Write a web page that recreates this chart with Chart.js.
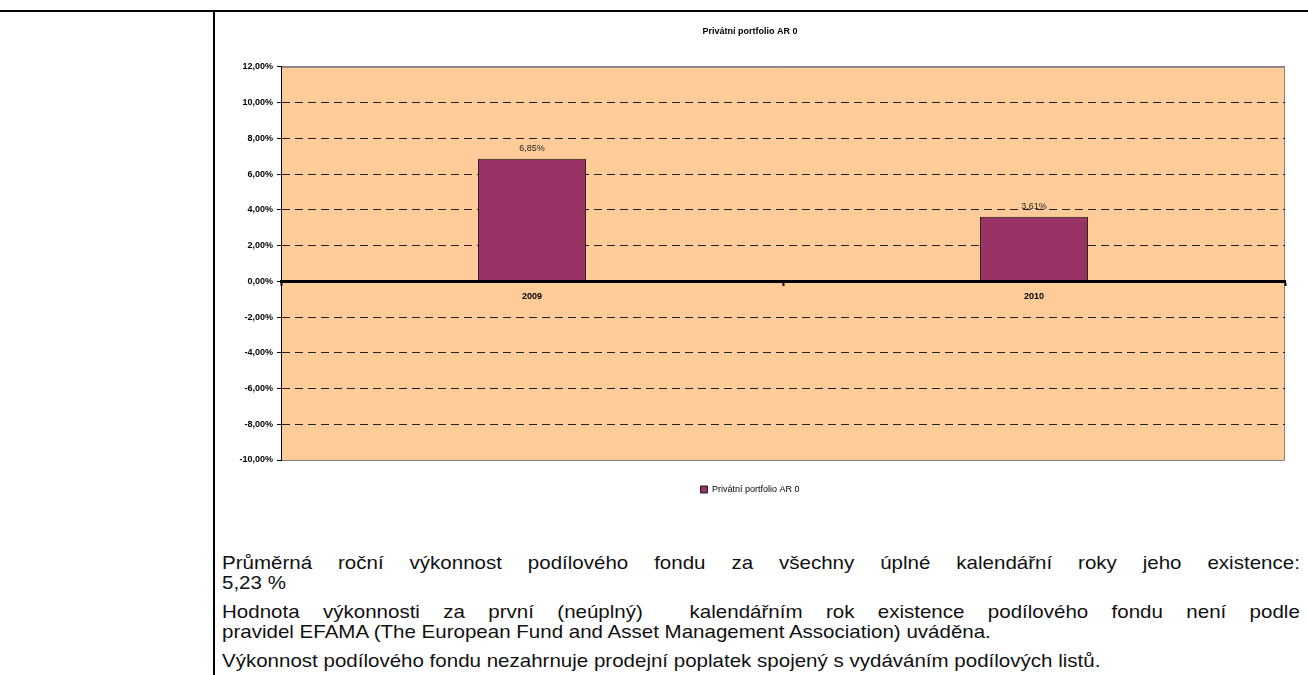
<!DOCTYPE html>
<html lang="cs">
<head>
<meta charset="utf-8">
<title>Privátní portfolio AR 0</title>
<script src="https://cdn.jsdelivr.net/npm/chart.js@4.4.1/dist/chart.umd.min.js"></script>
<style>
    html, body { margin: 0; padding: 0; background: #fff; }
    body { width: 1308px; height: 675px; position: relative; overflow: hidden; font-family: "Liberation Sans", Arial, sans-serif; }
    .linka-horni { position: absolute; left: 0; top: 10px; width: 1308px; height: 2px; background: #000; }
    .linka-svisla { position: absolute; left: 213px; top: 10px; width: 2px; height: 665px; background: #000; }
    .graf { position: absolute; left: 215px; top: 13px; width: 1093px; height: 491px; }
    /* text je v originale mirne roztazeny do sirky */
    .texty { position: absolute; left: 222px; top: 553px; width: 998px; color: #111; font-size: 19px; line-height: 20px; transform: scaleX(1.08); transform-origin: 0 0; }
    .texty p { margin: 0 0 9px 0; }
    .texty .radek { display: block; white-space: nowrap; }
    .texty .zarovnat { text-align: justify; text-align-last: justify; white-space: normal; }
</style>
</head>
<body>
<div class="linka-horni"></div>
<div class="linka-svisla"></div>
<div class="graf"><canvas id="grafVykonnost"></canvas></div>
<div class="texty">
    <p>
        <span class="radek zarovnat">Průměrná roční výkonnost podílového fondu za všechny úplné kalendářní roky jeho existence:</span>
        <span class="radek">5,23 %</span>
    </p>
    <p>
        <span class="radek zarovnat">Hodnota výkonnosti za první (neúplný)&nbsp; kalendářním rok existence podílového fondu není podle</span>
        <span class="radek">pravidel EFAMA (The European Fund and Asset Management Association) uváděna.</span>
    </p>
    <p>
        <span class="radek">Výkonnost podílového fondu nezahrnuje prodejní poplatek spojený s vydáváním podílových listů.</span>
    </p>
</div>
<script>
// data z grafu
const roky = ["2009", "2010"];
const vykonnost = [6.85, 3.61];
const nazevSerie = "Privátní portfolio AR 0";
const osaMin = -10;
const osaMax = 12;
const osaKrok = 2;

const pismo = "'Liberation Sans', Arial, sans-serif";

function formatProcent(v) {
    return v.toFixed(2).replace(".", ",") + "%";
}

// pozadí plochy grafu
const pozadiPlochy = {
    id: "pozadiPlochy",
    beforeDraw(chart) {
        const a = chart.chartArea;
        const ctx = chart.ctx;
        ctx.save();
        ctx.fillStyle = "#FFCC99";
        ctx.fillRect(a.left, a.top, a.right - a.left, a.bottom - a.top);
        ctx.strokeStyle = "#808080";
        ctx.lineWidth = 1;
        ctx.strokeRect(a.left + 0.5, a.top + 0.5, a.right - a.left - 1, a.bottom - a.top);
        ctx.restore();
    }
};

// popisky hodnot nad sloupci
const popiskyHodnot = {
    id: "popiskyHodnot",
    afterDatasetsDraw(chart) {
        const ctx = chart.ctx;
        const meta = chart.getDatasetMeta(0);
        ctx.save();
        ctx.font = "9px " + pismo;
        ctx.fillStyle = "#222";
        ctx.textAlign = "center";
        ctx.textBaseline = "bottom";
        meta.data.forEach((el, i) => {
            ctx.fillText(formatProcent(vykonnost[i]), el.x, el.y - 6);
        });
        ctx.restore();
    }
};

const ctx = document.getElementById("grafVykonnost").getContext("2d");

new Chart(ctx, {
    type: "bar",
    data: {
        labels: roky,
        datasets: [{
            label: nazevSerie,
            data: vykonnost,
            backgroundColor: "#993366",
            borderColor: "#1a1a1a",
            borderWidth: 1,
            categoryPercentage: 1,
            barPercentage: 0.215
        }]
    },
    plugins: [pozadiPlochy, popiskyHodnot],
    options: {
        responsive: true,
        maintainAspectRatio: false,
        animation: false,
        layout: { padding: { left: 0, right: 23, top: 0, bottom: 0 } },
        plugins: {
            tooltip: { enabled: false },
            title: {
                display: true,
                text: nazevSerie,
                color: "#000",
                font: { family: pismo, size: 9, weight: "bold" },
                padding: { top: 13, bottom: 30 }
            },
            legend: {
                position: "bottom",
                labels: {
                    color: "#000",
                    font: { family: pismo, size: 9 },
                    boxWidth: 7,
                    boxHeight: 7,
                    padding: 25
                }
            }
        },
        scales: {
            x: {
                type: "category",
                position: { y: 0 },
                offset: true,
                grid: {
                    offset: true,
                    drawOnChartArea: false,
                    drawTicks: true,
                    tickLength: 3,
                    tickWidth: 2,
                    tickColor: "#000"
                },
                border: { display: true, color: "#000", width: 3, z: 1 },
                ticks: {
                    color: "#000",
                    font: { family: pismo, size: 9, weight: "bold" },
                    padding: 7,
                    maxRotation: 0
                }
            },
            y: {
                min: osaMin,
                max: osaMax,
                afterFit(scale) { scale.width = 66; },
                ticks: {
                    stepSize: osaKrok,
                    color: "#000",
                    font: { family: pismo, size: 9, weight: "bold" },
                    padding: 4,
                    callback: (v) => formatProcent(v)
                },
                grid: {
                    drawTicks: true,
                    tickLength: 4,
                    tickWidth: 1,
                    tickColor: "#000",
                    lineWidth: 1,
                    color: (c) => {
                        if (!c.tick) return "#000";
                        const v = c.tick.value;
                        if (v === osaMax || v === osaMin) return "#808080";
                        if (v === 0) return "rgba(0,0,0,0)";
                        return "#222";
                    }
                },
                border: {
                    display: true,
                    color: "#000",
                    width: 1,
                    dash: (c) => {
                        if (!c.tick) return [];
                        const v = c.tick.value;
                        if (v === osaMax || v === osaMin || v === 0) return [];
                        return [8, 5];
                    }
                }
            }
        }
    }
});
</script>
</body>
</html>
